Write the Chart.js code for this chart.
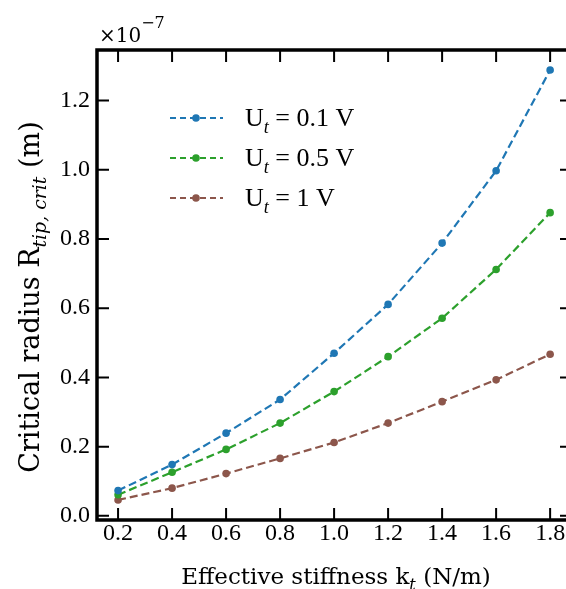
<!DOCTYPE html>
<html>
<head>
<meta charset="utf-8">
<script src="https://cdn.jsdelivr.net/npm/chart.js@4.4.0/dist/chart.umd.min.js"></script>
<style>
    html, body { margin: 0; padding: 0; background: #fff; overflow: hidden; }
    #wrap { position: absolute; left: 0; top: 0; width: 580px; height: 589px; }
</style>
</head>
<body>
<div id="wrap"><canvas id="radiusChart" width="580" height="589"></canvas></div>
<script>
// effective stiffness k_t (N/m)
const stiffness = [0.2, 0.4, 0.6, 0.8, 1.0, 1.2, 1.4, 1.6, 1.8];
// critical radius, in units of 1e-7 m
const radius01V = [0.073, 0.148, 0.239, 0.336, 0.470, 0.611, 0.788, 0.997, 1.288];
const radius05V = [0.061, 0.126, 0.192, 0.268, 0.359, 0.460, 0.571, 0.712, 0.876];
const radius1V = [0.046, 0.080, 0.122, 0.166, 0.212, 0.268, 0.330, 0.393, 0.467];
const voltages = ["0.1 V", "0.5 V", "1 V"];
const colors = ["#1f77b4", "#2ca02c", "#8c564b"];

const WIDE_SERIF = '"DejaVu Serif", serif';
const SERIF = '"Liberation Serif", serif';

function font(size, italic, family) {
    return (italic ? "italic " : "") + size + "px " + family;
}

// draw text pieces one after another, subscripts smaller and lower
function drawPieces(ctx, pieces, x, y, size, family, subScale, supShift) {
    const k = subScale || 0.7;
    let cx = x;
    pieces.forEach((p) => {
        const s = p.sub || p.sup ? size * k : size;
        ctx.font = font(s, p.italic, family);
        let dy = 0;
        if (p.sub) dy = size * 0.28;
        if (p.sup) dy = -size * (supShift || 0.5);
        ctx.fillText(p.text, cx, y + dy);
        cx += ctx.measureText(p.text).width;
    });
    return cx - x;
}

function piecesWidth(ctx, pieces, size, family) {
    let w = 0;
    pieces.forEach((p) => {
        ctx.font = font(p.sub || p.sup ? size * 0.7 : size, p.italic, family);
        w += ctx.measureText(p.text).width;
    });
    return w;
}

const decorations = {
    id: "decorations",
    afterDatasetsDraw(chart) {
        const { ctx, chartArea: a, scales } = chart;
        const x = scales.x, y = scales.y;
        ctx.save();
        ctx.strokeStyle = "#000";
        ctx.fillStyle = "#000";

        // inward ticks on all four sides
        ctx.lineWidth = 2;
        ctx.beginPath();
        x.ticks.forEach((t) => {
            const px = x.getPixelForValue(t.value);
            ctx.moveTo(px, a.bottom); ctx.lineTo(px, a.bottom - 12);
            ctx.moveTo(px, a.top); ctx.lineTo(px, a.top + 12);
        });
        y.ticks.forEach((t) => {
            const py = y.getPixelForValue(t.value);
            ctx.moveTo(a.left, py); ctx.lineTo(a.left + 12, py);
            ctx.moveTo(a.right, py); ctx.lineTo(a.right - 12, py);
        });
        ctx.stroke();

        // frame
        ctx.lineWidth = 3.5;
        ctx.strokeRect(a.left, a.top, a.right - a.left, a.bottom - a.top);

        // x title
        ctx.textBaseline = "alphabetic";
        const xt = [
            { text: "Effective stiffness k" },
            { text: "t", italic: true, sub: true },
            { text: " (N/m)" },
        ];
        const xw = piecesWidth(ctx, xt, 23, WIDE_SERIF);
        drawPieces(ctx, xt, 336 - xw / 2, 584, 23, WIDE_SERIF);

        // y title
        const yt = [
            { text: "Critical radius R" },
            { text: "tip, crit", italic: true, sub: true },
            { text: " (m)" },
        ];
        const yw = piecesWidth(ctx, yt, 27, WIDE_SERIF);
        ctx.save();
        ctx.translate(38.5, 297);
        ctx.rotate(-Math.PI / 2);
        drawPieces(ctx, yt, -yw / 2, 0, 27, WIDE_SERIF);
        ctx.restore();

        // offset text
        drawPieces(ctx, [{ text: "\u00d710" }, { text: "\u22127", sup: true }], 99, 42, 20, WIDE_SERIF, 0.8, 0.72);

        // legend
        chart.data.datasets.forEach((ds, i) => {
            const ly = 118 + 40 * i;
            ctx.strokeStyle = ds.borderColor;
            ctx.lineWidth = 2.2;
            ctx.setLineDash([6, 4]);
            ctx.beginPath();
            ctx.moveTo(170, ly); ctx.lineTo(223, ly);
            ctx.stroke();
            ctx.setLineDash([]);
            ctx.fillStyle = ds.borderColor;
            ctx.beginPath();
            ctx.arc(196, ly, 3.8, 0, Math.PI * 2);
            ctx.fill();
            ctx.fillStyle = "#000";
            drawPieces(ctx, [
                { text: "U" },
                { text: "t", italic: true, sub: true },
                { text: " = " + voltages[i] },
            ], 245, ly + 8, 26, SERIF);
        });
        ctx.restore();
    },
};

function series(values, i) {
    return {
        label: "Ut = " + voltages[i],
        data: stiffness.map((k, j) => ({ x: k, y: values[j] })),
        borderColor: colors[i],
        backgroundColor: colors[i],
        borderWidth: 2.2,
        borderDash: [8, 4],
        pointRadius: 3.8,
        pointBorderWidth: 0,
        pointBackgroundColor: colors[i],
        tension: 0,
    };
}

const tickFont = { family: SERIF, size: 24, lineHeight: 1 };

new Chart(document.getElementById("radiusChart"), {
    type: "line",
    data: {
        datasets: [series(radius01V, 0), series(radius05V, 1), series(radius1V, 2)],
    },
    options: {
        responsive: false,
        animation: false,
        devicePixelRatio: 1,
        layout: { padding: { top: 50, right: 8, left: 0, bottom: 0 } },
        plugins: { legend: { display: false }, tooltip: { enabled: false } },
        scales: {
            x: {
                type: "linear",
                min: 0.122,
                max: 1.881,
                afterFit(s) { s.height = 69; },
                grid: { display: false, drawTicks: false },
                border: { display: false },
                ticks: {
                    stepSize: 0.2,
                    includeBounds: false,
                    color: "#000",
                    font: tickFont,
                    padding: 2,
                    maxRotation: 0,
                    callback: (v) => v.toFixed(1),
                },
            },
            y: {
                type: "linear",
                min: -0.012,
                max: 1.346,
                afterFit(s) { s.width = 97; },
                grid: { display: false, drawTicks: false },
                border: { display: false },
                ticks: {
                    stepSize: 0.2,
                    includeBounds: false,
                    color: "#000",
                    font: tickFont,
                    padding: 7,
                    callback: (v) => v.toFixed(1),
                },
            },
        },
    },
    plugins: [decorations],
});
</script>
</body>
</html>
